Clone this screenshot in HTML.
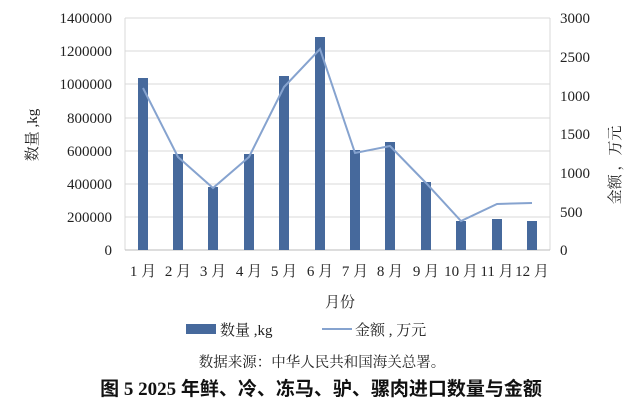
<!DOCTYPE html>
<html><head><meta charset="utf-8"><style>
body{margin:0;background:#fff;}
svg{display:block;font-family:"Liberation Serif","Noto Serif CJK SC",serif;}
</style></head><body>
<svg width="643" height="420" viewBox="0 0 643 420">
<g stroke="#d9d9d9" stroke-width="1">
<line x1="125" y1="18" x2="550" y2="18"/><line x1="125" y1="51" x2="550" y2="51"/>
<line x1="125" y1="84" x2="550" y2="84"/><line x1="125" y1="118" x2="550" y2="118"/>
<line x1="125" y1="151" x2="550" y2="151"/><line x1="125" y1="184" x2="550" y2="184"/>
<line x1="125" y1="217" x2="550" y2="217"/>
<line x1="125" y1="18" x2="125" y2="250"/><line x1="550" y1="18" x2="550" y2="250"/>
<line x1="125" y1="250" x2="550" y2="250" stroke="#bbb"/>
</g>
<g fill="#46699c">
<rect x="138" y="78" width="10" height="172"/>
<rect x="173" y="154" width="10" height="96"/>
<rect x="208" y="187" width="10" height="63"/>
<rect x="244" y="154" width="10" height="96"/>
<rect x="279" y="76" width="10" height="174"/>
<rect x="315" y="37" width="10" height="213"/>
<rect x="350" y="150" width="10" height="100"/>
<rect x="385" y="142" width="10" height="108"/>
<rect x="421" y="182" width="10" height="68"/>
<rect x="456" y="221" width="10" height="29"/>
<rect x="492" y="219" width="10" height="31"/>
<rect x="527" y="221" width="10" height="29"/>
</g>
<polyline fill="none" stroke="#86a3cf" stroke-width="2" points="143,88 178,157 213,188 249,157 284,87 320,49 355,153 390,146 426,183 461,221 497,204 532,203"/>
<g font-size="15" fill="#222" text-anchor="end">
<text x="112" y="23">1400000</text><text x="112" y="56">1200000</text><text x="112" y="89">1000000</text>
<text x="112" y="123">800000</text><text x="112" y="156">600000</text><text x="112" y="189">400000</text>
<text x="112" y="222">200000</text><text x="112" y="255">0</text>
</g>
<g font-size="15" fill="#222">
<text x="560" y="23">3000</text><text x="560" y="62">2500</text><text x="560" y="101">1000</text>
<text x="560" y="139">1500</text><text x="560" y="178">1000</text><text x="560" y="217">500</text><text x="560" y="255">0</text>
</g>
<g font-size="15" fill="#222" text-anchor="middle">
<text x="143" y="276">1 月</text><text x="178" y="276">2 月</text><text x="213" y="276">3 月</text>
<text x="249" y="276">4 月</text><text x="284" y="276">5 月</text><text x="320" y="276">6 月</text>
<text x="355" y="276">7 月</text><text x="390" y="276">8 月</text><text x="426" y="276">9 月</text>
<text x="461" y="276">10 月</text><text x="497" y="276">11 月</text><text x="532" y="276">12 月</text>
<text x="340" y="307">月份</text>
</g>
<text transform="translate(37,135) rotate(-90)" font-size="15" text-anchor="middle" fill="#222">数量 ,kg</text>
<text transform="translate(620,165) rotate(-90)" font-size="15" text-anchor="middle" fill="#222">金额 ，万元</text>
<rect x="186" y="324" width="30" height="10" fill="#46699c"/>
<text x="220" y="335" font-size="15" fill="#222">数量 ,kg</text>
<line x1="322" y1="329" x2="352" y2="329" stroke="#86a3cf" stroke-width="2"/>
<text x="355" y="335" font-size="15" fill="#222">金额 , 万元</text>
<text x="322" y="367" font-size="14.5" text-anchor="middle" fill="#222">数据来源：中华人民共和国海关总署。</text>
<text x="321" y="395" font-size="19" font-weight="bold" text-anchor="middle" fill="#111" font-family="'Liberation Serif','Noto Sans CJK SC',sans-serif">图 5 2025 年鲜、冷、冻马、驴、骡肉进口数量与金额</text>
</svg>
</body></html>
